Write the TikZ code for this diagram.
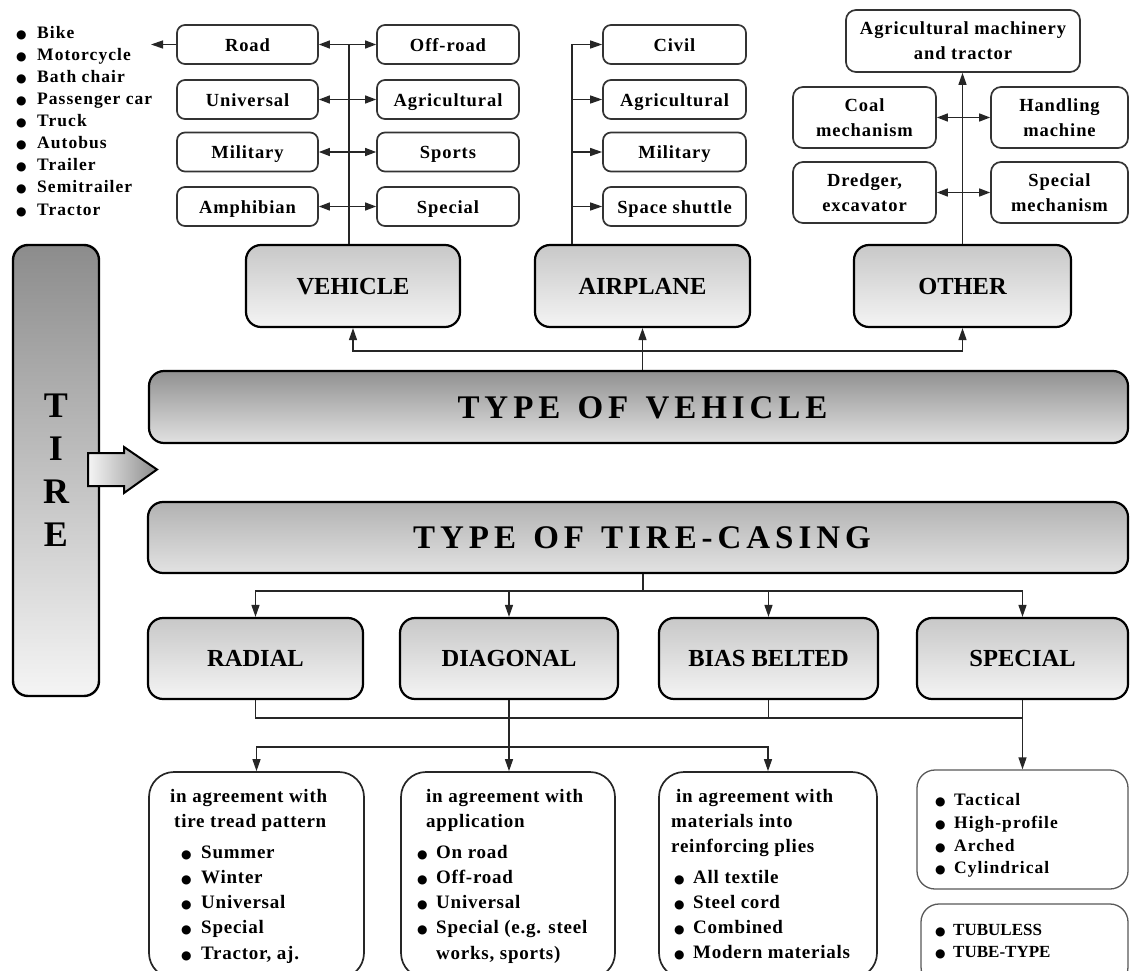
\documentclass[tikz,border=0pt]{standalone}
\usepackage{fontspec}
\setmainfont{Liberation Serif}
\newfontfamily\lsA{Liberation Serif}[LetterSpace=6]
\newfontfamily\lsB{Liberation Serif}[LetterSpace=5]
\newfontfamily\lsC{Liberation Serif}[LetterSpace=4]
\newfontfamily\lsD{Liberation Serif}[LetterSpace=15]
\newfontfamily\symf{DejaVu Sans}
\usetikzlibrary{arrows.meta}
\newcommand\bul{{\symf\fontsize{12}{12}\selectfont ●}}
\definecolor{tiretop}{RGB}{140,140,140}
\definecolor{tirebot}{RGB}{245,245,245}
\definecolor{hdrtop}{RGB}{200,200,200}
\definecolor{hdrbot}{RGB}{244,244,244}
\definecolor{barAtop}{RGB}{145,145,145}
\definecolor{barAbot}{RGB}{225,225,225}
\definecolor{barBtop}{RGB}{178,178,178}
\definecolor{barBbot}{RGB}{226,226,226}
\begin{document}
\begin{tikzpicture}[x=1pt,y=-1pt,
  conn/.style={line width=1.3pt, draw=black!85},
  arr/.style={conn,-{Triangle[length=12pt,width=8pt]}},
  darr/.style={conn,{Triangle[length=11pt,width=8pt]}-{Triangle[length=11pt,width=8pt]}},
  subbox/.style={draw=black!80, line width=1.7pt, rounded corners=8pt, fill=white, inner sep=0pt,
     font=\lsB\bfseries\fontsize{18.5}{25}\selectfont, text height=15pt, text depth=1pt},
  subboxtwo/.style={draw=black!80, line width=1.7pt, rounded corners=10pt, fill=white, inner sep=0pt,
     align=center, font=\lsB\bfseries\fontsize{18.5}{25}\selectfont},
  hdr/.style={draw=black, line width=2.2pt, rounded corners=15pt, top color=hdrtop, bottom color=hdrbot,
     inner sep=0pt, font=\bfseries\fontsize{24.5}{25}\selectfont, text height=16pt, text depth=0pt},
  bar/.style={draw=black, line width=2.2pt, rounded corners=15pt, inner sep=0pt,
     font=\lsD\bfseries\fontsize{33}{33}\selectfont, text height=22pt, text depth=0pt},
  lst/.style={inner sep=0pt, anchor=base west, font=\lsA\bfseries\fontsize{17.5}{22}\selectfont},
  btxt/.style={inner sep=0pt, anchor=base west, font=\lsC\bfseries\fontsize{19}{25}\selectfont},
  bbox/.style={draw=black!85, line width=1.7pt, rounded corners=25pt, fill=white, inner sep=0pt},
  gbox/.style={draw=black!65, line width=1.3pt, rounded corners=18pt, fill=white, inner sep=0pt},
]
\clip (0,0) rectangle (1130,971);
\fill[white] (0,0) rectangle (1130,971);

% ---------- top-left list
\foreach \t/\yy [count=\i] in {Bike/39, Motorcycle/61, Bath chair/83, Passenger car/105, Truck/127, Autobus/149, Trailer/171, Semitrailer/193, Tractor/215}
  \node[lst] (vl\i) at (16,\yy) {\makebox[21pt][l]{\bul}\t};

% ---------- vehicle sub boxes
\node[subbox, minimum width=141pt, minimum height=39pt] (road) at (247.5,44.5) {Road};
\node[subbox, minimum width=141pt, minimum height=39pt] (universal) at (247.5,99.5) {Universal};
\node[subbox, minimum width=141pt, minimum height=39pt] (militaryV) at (247.5,152) {Military};
\node[subbox, minimum width=141pt, minimum height=39pt] (amphibian) at (247.5,206.5) {Amphibian};
\node[subbox, minimum width=142pt, minimum height=39pt] (offroad) at (448,44.5) {Off-road};
\node[subbox, minimum width=142pt, minimum height=39pt] (agricV) at (448,99.5) {Agricultural};
\node[subbox, minimum width=142pt, minimum height=39pt] (sports) at (448,152) {Sports};
\node[subbox, minimum width=142pt, minimum height=39pt] (specialV) at (448,206.5) {Special};

% ---------- airplane sub boxes
\node[subbox, minimum width=143pt, minimum height=39pt] (civil) at (674.5,44.5) {Civil};
\node[subbox, minimum width=143pt, minimum height=39pt] (agricA) at (674.5,99.5) {Agricultural};
\node[subbox, minimum width=143pt, minimum height=39pt] (militaryA) at (674.5,152) {Military};
\node[subbox, minimum width=143pt, minimum height=39pt] (shuttle) at (674.5,206.5) {Space shuttle};

% ---------- other sub boxes
\node[subboxtwo, minimum width=234pt, minimum height=62pt] (agrimach) at (963,41) {Agricultural machinery\\and tractor};
\node[subboxtwo, minimum width=143pt, minimum height=61pt] (coal) at (864.5,117.5) {Coal\\mechanism};
\node[subboxtwo, minimum width=137pt, minimum height=61pt] (handling) at (1059.5,117.5) {Handling\\machine};
\node[subboxtwo, minimum width=143pt, minimum height=61pt] (dredger) at (864.5,192.5) {Dredger,\\excavator};
\node[subboxtwo, minimum width=137pt, minimum height=61pt] (specmech) at (1059.5,192.5) {Special\\mechanism};

% ---------- headers
\node[hdr, minimum width=214pt, minimum height=82pt] (vehicle) at (353,286) {VEHICLE};
\node[hdr, minimum width=215pt, minimum height=82pt] (airplane) at (642.5,286) {AIRPLANE};
\node[hdr, minimum width=217pt, minimum height=82pt] (other) at (962.5,286) {OTHER};

% ---------- bars
\node[bar, top color=barAtop, bottom color=barAbot, minimum width=979pt, minimum height=72pt] (vehbar) at (638.5,407) {\hspace*{8pt}TYPE\hspace{4pt} OF\hspace{4pt} VEHICLE};
\node[bar, top color=barBtop, bottom color=barBbot, minimum width=980pt, minimum height=71pt] (casing) at (638,537.5) {\hspace*{8pt}TYPE\hspace{4pt} OF\hspace{4pt} TIRE-CASING};

% ---------- tire
\node[draw=black, line width=2.4pt, rounded corners=15pt, top color=tiretop, bottom color=tirebot,
      minimum width=86pt, minimum height=451pt, inner sep=0pt, align=center,
      font=\bfseries\fontsize{36}{43}\selectfont] (tire) at (56,470.5) {T\\I\\R\\E};
\shade[left color=tirebot, right color=tiretop, draw=black, line width=2pt]
  (88,453) -- (124,453) -- (124,447) -- (157,469.5) -- (124,493) -- (124,486) -- (88,486) -- cycle;

% ---------- level 3
\node[hdr, minimum width=215pt, minimum height=81pt] (radial) at (255.5,658.5) {RADIAL};
\node[hdr, minimum width=218pt, minimum height=81pt] (diagonal) at (509,658.5) {DIAGONAL};
\node[hdr, minimum width=219pt, minimum height=81pt] (bias) at (768.5,658.5) {BIAS BELTED};
\node[hdr, minimum width=211pt, minimum height=81pt] (special) at (1022.5,658.5) {SPECIAL};

% ---------- bottom boxes
\node[bbox, minimum width=215pt, minimum height=206pt] (b1) at (256.5,875) {};
\node[bbox, minimum width=214pt, minimum height=206pt] (b2) at (508,875) {};
\node[bbox, minimum width=218pt, minimum height=206pt] (b3) at (768,875) {};
\node[gbox, minimum width=211pt, minimum height=119pt] (speclist) at (1022.5,829.5) {};
\node[gbox, minimum width=207pt, minimum height=81pt] (tube) at (1024.5,944.5) {};

% texts box 1
\node[btxt] (b1h1) at (170,802) {in agreement with};
\node[btxt] (b1h2) at (174,827) {tire tread pattern};
\node[btxt] (b1i1) at (181,858) {\makebox[20pt][l]{\bul}Summer};
\node[btxt] (b1i2) at (181,883) {\makebox[20pt][l]{\bul}Winter};
\node[btxt] (b1i3) at (181,908) {\makebox[20pt][l]{\bul}Universal};
\node[btxt] (b1i4) at (181,933) {\makebox[20pt][l]{\bul}Special};
\node[btxt] (b1i5) at (181,959) {\makebox[20pt][l]{\bul}Tractor, aj.};
% texts box 2
\node[btxt] (b2h1) at (426,802) {in agreement with};
\node[btxt] (b2h2) at (426,827) {application};
\node[btxt] (b2i1) at (417,858) {\makebox[19pt][l]{\bul}On road};
\node[btxt] (b2i2) at (417,883) {\makebox[19pt][l]{\bul}Off-road};
\node[btxt] (b2i3) at (417,908) {\makebox[19pt][l]{\bul}Universal};
\node[btxt] (b2i4) at (417,933) {\makebox[19pt][l]{\bul}Special (e.g. steel};
\node[btxt] (b2i5) at (436,959) {works, sports)};
% texts box 3
\node[btxt] (b3h1) at (676,802) {in agreement with};
\node[btxt] (b3h2) at (671,827) {materials into};
\node[btxt] (b3h3) at (671,852) {reinforcing plies};
\node[btxt] (b3i1) at (674,883) {\makebox[19pt][l]{\bul}All textile};
\node[btxt] (b3i2) at (674,908) {\makebox[19pt][l]{\bul}Steel cord};
\node[btxt] (b3i3) at (674,933) {\makebox[19pt][l]{\bul}Combined};
\node[btxt] (b3i4) at (674,958) {\makebox[19pt][l]{\bul}Modern materials};
% special list
\node[lst] (s1) at (935,805) {\makebox[19pt][l]{\bul}Tactical};
\node[lst] (s2) at (935,828) {\makebox[19pt][l]{\bul}High-profile};
\node[lst] (s3) at (935,851) {\makebox[19pt][l]{\bul}Arched};
\node[lst] (s4) at (935,873) {\makebox[19pt][l]{\bul}Cylindrical};
% tube
\node[lst, font=\bfseries\fontsize{17}{22}\selectfont] (t1) at (935,935) {\makebox[18pt][l]{\bul}TUBULESS};
\node[lst, font=\bfseries\fontsize{17}{22}\selectfont] (t2) at (935,957) {\makebox[18pt][l]{\bul}TUBE-TYPE};

% ---------- connectors top
\coordinate (listend) at (151,44.5);
\draw[arr] (road.west) -- (listend);
\coordinate (vtop) at (349,44.5);
\draw[conn] (vtop) -- (vtop |- vehicle.north);
\draw[darr] (road) -- (offroad);
\draw[darr] (universal) -- (agricV);
\draw[darr] (militaryV) -- (sports);
\draw[darr] (amphibian) -- (specialV);

\coordinate (atop) at (572,44.5);
\draw[arr] (atop |- airplane.north) -- (atop) -- (civil.west);
\draw[arr] (atop |- agricA.west) -- (agricA.west);
\draw[arr] (atop |- militaryA.west) -- (militaryA.west);
\draw[arr] (atop |- shuttle.west) -- (shuttle.west);

\draw[arr] (other.north) -- (other.north |- agrimach.south);
\draw[darr] (coal) -- (handling);
\draw[darr] (dredger) -- (specmech);

\coordinate (hub) at (643,351);
\draw[arr] (hub) -| (vehicle.south);
\draw[arr] (hub) -| (other.south);
\draw[arr] (vehbar.north -| airplane.south) -- (airplane.south);

% ---------- connectors middle
\coordinate (chub) at (643,591);
\draw[conn] (casing.south -| chub) -- (chub);
\draw[arr] (chub) -| (radial.north);
\draw[arr] (chub) -| (diagonal.north);
\draw[arr] (chub) -| (bias.north);
\draw[arr] (chub) -| (special.north);

% ---------- connectors bottom
\coordinate (jA) at (0,718);
\coordinate (jB) at (0,747);
\draw[conn] (radial.south) |- (special.south |- jA) -- (special.south);
\draw[conn] (bias.south) -- (bias.south |- jA);
\draw[arr] (special.south |- jA) -- (speclist.north);
\draw[arr] (diagonal.south) -- (diagonal.south |- b2.north);
\draw[arr] (diagonal.south |- jB) -| (b1.north);
\draw[arr] (diagonal.south |- jB) -| (b3.north);
\end{tikzpicture}
\end{document}
